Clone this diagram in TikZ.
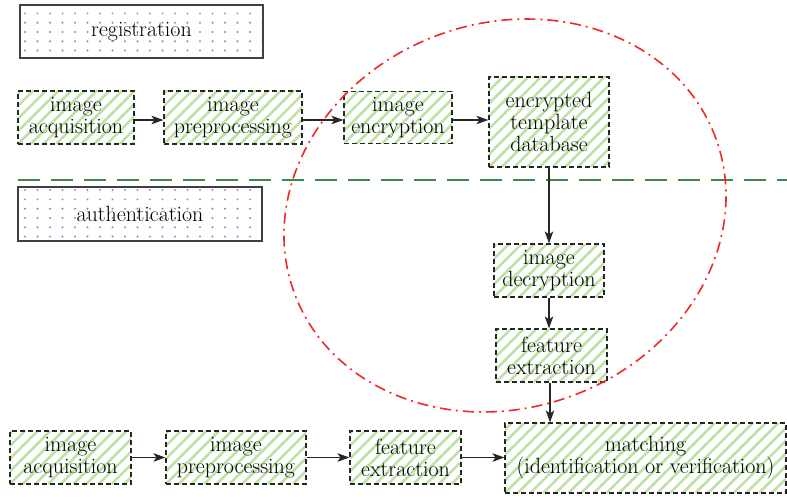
\documentclass[tikz,border=0pt]{standalone}
\usepackage{fontspec}
\usetikzlibrary{patterns,arrows.meta}
% sparse grid of small dots for the phase labels
\pgfdeclarepatternformonly{phasedots}{\pgfqpoint{-1.5pt}{-1.5pt}}{\pgfqpoint{1.5pt}{1.5pt}}{\pgfqpoint{12.5pt}{9.3pt}}{%
  \pgfpathcircle{\pgfqpoint{0pt}{0pt}}{1.1pt}\pgfusepath{fill}}
\definecolor{hatchgreen}{RGB}{188,226,165}
\definecolor{dotpurple}{RGB}{175,120,190}
\definecolor{splitgreen}{RGB}{62,135,72}
\definecolor{zonered}{RGB}{240,40,40}
\tikzset{
  txt/.style={font=\fontsize{22}{22}\selectfont\addfontfeature{FakeBold=1.5}, align=center},
  hatched/.style={path picture={
      \foreach \k in {-8,...,24}
        \draw[solid, hatchgreen, line width=2.6pt]
          ([xshift=\k*12.7pt]path picture bounding box.south west) -- ++(110,110);}},
  stage/.style={txt, hatched, draw=black!85, dash pattern=on 5pt off 3pt, line width=1.2pt,
    inner sep=0pt},
  phase/.style={txt, draw=black!75, line width=1.4pt, pattern=phasedots, pattern color=dotpurple,
    inner sep=0pt},
  flow/.style={-{Stealth[length=12pt,width=8.5pt,inset=3pt]}, line width=1.1pt, black!85},
}
\begin{document}
\begin{tikzpicture}[x=1pt,y=1pt]
\useasboundingbox (0,0) rectangle (787,-497);

% phase labels
\node[phase, minimum width=243pt, minimum height=53pt] (reg) at (141.5,-31.5) {registration};
\node[phase, minimum width=244pt, minimum height=54pt] (auth) at (140,-214) {authentication};

% registration pipeline
\node[stage, minimum width=116pt, minimum height=53pt] (racq) at (76,-117.5) {image\\acquisition};
\node[stage, minimum width=138pt, minimum height=53pt] (rpre) at (233,-117.5) {image\\preprocessing};
\node[stage, minimum width=108pt, minimum height=52pt] (renc) at (398,-117.5) {image\\encryption};
\node[stage, minimum width=120pt, minimum height=90pt] (db) at (549,-122) {encrypted\\template\\database};

% authentication pipeline
\node[stage, minimum width=110pt, minimum height=53pt] (dec) at (549,-270.5) {image\\decryption};
\node[stage, minimum width=111pt, minimum height=53pt] (rfeat) at (551.5,-355.5) {feature\\extraction};
\node[stage, minimum width=121pt, minimum height=53pt] (aacq) at (70.5,-457.5) {image\\acquisition};
\node[stage, minimum width=140pt, minimum height=53pt] (apre) at (236,-457.5) {image\\preprocessing};
\node[stage, minimum width=111pt, minimum height=53pt] (afeat) at (405.5,-457.5) {feature\\extraction};
\node[stage, minimum width=281pt, minimum height=70pt] (match) at (645.5,-458) {matching\\(identification or verification)};

% separator between the two phases
\coordinate (sepL) at (18,-180);
\coordinate (sepR) at (787,-180);
\draw[splitgreen, line width=2pt, dash pattern=on 22pt off 11pt] (sepL) -- (sepR);

% flows
\draw[flow] (racq.east |- 0,-120) -- (rpre.west |- 0,-120);
\draw[flow] (rpre.east |- 0,-120) -- (renc.west |- 0,-120);
\draw[flow] (renc.east |- 0,-120) -- (db.west |- 0,-120);
\draw[flow] (db.south) -- (dec.north);
\draw[flow] (dec.south) -- (dec.south |- rfeat.north);
\draw[flow] (rfeat.south -| 550,0) -- (match.north -| 550,0);
\draw[flow] (aacq.east) -- (apre.west);
\draw[flow] (apre.east) -- (afeat.west);
\draw[flow] (afeat.east) -- (match.west |- afeat.east);

% protected zone
\draw[zonered, line width=1.6pt, dash pattern=on 11pt off 5pt on 2pt off 5pt,
  rotate around={20:(505,-215.5)}] (505,-215.5) ellipse [x radius=224.5pt, y radius=192.4pt];
\end{tikzpicture}
\end{document}
